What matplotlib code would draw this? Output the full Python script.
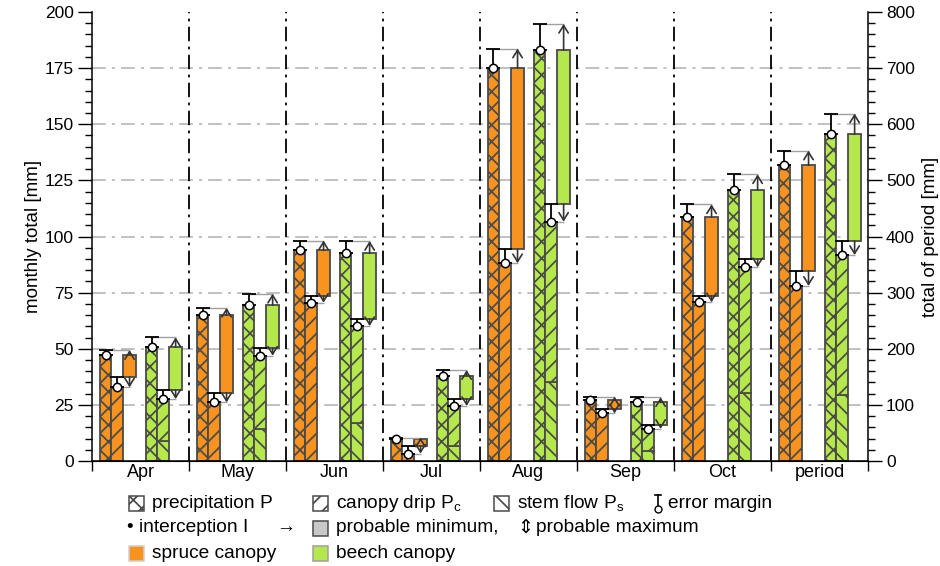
import numpy as np
import matplotlib.pyplot as plt
from matplotlib.patches import Rectangle
from matplotlib.lines import Line2D

plt.rcParams['font.family'] = ['Liberation Sans', 'DejaVu Sans']
plt.rcParams['mathtext.default'] = 'regular'
plt.rcParams['hatch.linewidth'] = 1.25

# months + whole period (period values in mm of the whole period, right axis)
months = ['Apr', 'May', 'Jun', 'Jul', 'Aug', 'Sep', 'Oct', 'period']
PERIOD_FACTOR = 4  # right axis 0-800 vs left axis 0-200

# spruce: precipitation P, canopy drip Pc, upper error margins
spruce_P = [47.3, 65.0, 93.8, 9.6, 174.9, 27.2, 108.8, 527]
spruce_P_err = [2.1, 3.2, 4.4, 0.8, 8.8, 1.4, 5.5, 26]
spruce_Pc = [32.8, 26.1, 70.5, 3.3, 88.1, 21.2, 70.7, 312]
spruce_Pc_err = [4.6, 4.3, 3.0, 3.4, 6.2, 1.8, 2.9, 27]

# beech: precipitation P, throughfall (canopy drip + stem flow), stem flow Ps
beech_P = [50.8, 69.5, 92.5, 37.9, 183.1, 26.1, 120.7, 582]
beech_P_err = [4.3, 5.0, 5.5, 2.6, 11.6, 2.3, 7.0, 37]
beech_T = [27.6, 46.9, 60.1, 24.5, 106.6, 14.3, 86.3, 367]
beech_T_err = [4.0, 3.3, 3.2, 3.0, 7.7, 1.9, 3.5, 25]
beech_Ps = [8.8, 14.1, 16.9, 6.7, 35.0, 4.5, 30.3, 117]

orange = '#F7931E'
green = '#B4E84C'
edge = '#4a4a4a'
dark = '#333333'
lgray = '#a0a0a0'

n = len(months)
scale = np.array([1.0] * (n - 1) + [1.0 / PERIOD_FACTOR])
x = np.arange(n)
bw = 0.122
boxw = 0.13

def sc(v):
    return np.array(v, dtype=float) * scale

sP, sPe, sPc, sPce = sc(spruce_P), sc(spruce_P_err), sc(spruce_Pc), sc(spruce_Pc_err)
bP, bPe, bT, bTe, bPs = sc(beech_P), sc(beech_P_err), sc(beech_T), sc(beech_T_err), sc(beech_Ps)

fig = plt.figure(figsize=(9.4, 5.66), dpi=100)
ax = fig.add_axes([0.0979, 0.1855, 0.8255, 0.7933])
ax2 = ax.twinx()

ax.set_xlim(0, n)
ax.set_ylim(0, 200)
ax2.set_ylim(0, 200 * PERIOD_FACTOR)

# grid and separators
for g in np.arange(25, 200, 25):
    ax.axhline(g, color='#b0b0b0', lw=1.1, ls=(0, (9, 4, 2, 4)), zorder=0)
for b in range(1, n):
    ax.axvline(b, color='black', lw=1.3, ls=(0, (8, 3, 1.5, 3)), zorder=0)

def draw_site(x_p, x_t, x_box, P, Pe, T, Te, color, Ps=None):
    ax.bar(x_p, P, width=bw, align='edge', color=color, edgecolor=edge,
           hatch='xx', lw=1.3, zorder=2)
    if Ps is None:
        ax.bar(x_t, T, width=bw, align='edge', color=color, edgecolor=edge,
               hatch='//', lw=1.3, zorder=2)
    else:
        ax.bar(x_t, Ps, width=bw, align='edge', color=color, edgecolor=edge,
               hatch='\\\\', lw=1.3, zorder=2)
        ax.bar(x_t, T - Ps, bottom=Ps, width=bw, align='edge', color=color,
               edgecolor=edge, hatch='//', lw=1.3, zorder=2)
    # interception box: probable minimum
    lo = T + Te
    ax.bar(x_box, P - lo, bottom=lo, width=boxw, align='edge', color=color,
           edgecolor=edge, lw=1.3, zorder=2)
    cp = x_p + bw / 2
    ct = x_t + bw / 2
    cb = x_box + boxw / 2
    ax.hlines(P + Pe, cp, cb, color=lgray, lw=1, zorder=3)
    ax.hlines(T, ct, cb, color=lgray, lw=1, zorder=3)
    for i in range(n):
        ax.annotate('', xy=(cb[i], P[i] + Pe[i]), xytext=(cb[i], P[i]),
                    arrowprops=dict(arrowstyle='->,head_length=0.45,head_width=0.28',
                                    color=dark, lw=1.2, shrinkA=0, shrinkB=0,
                                    mutation_scale=12), zorder=4)
        ax.annotate('', xy=(cb[i], T[i]), xytext=(cb[i], lo[i]),
                    arrowprops=dict(arrowstyle='->,head_length=0.45,head_width=0.28',
                                    color=dark, lw=1.2, shrinkA=0, shrinkB=0,
                                    mutation_scale=12), zorder=4)
    ax.errorbar(cp, P, yerr=[np.zeros(n), Pe], fmt='none', ecolor='black',
                elinewidth=1.3, capsize=5, capthick=1.3, zorder=5)
    ax.errorbar(ct, T, yerr=[np.zeros(n), Te], fmt='none', ecolor='black',
                elinewidth=1.3, capsize=5, capthick=1.3, zorder=5)
    ax.plot(cp, P, 'o', ms=6, mfc='white', mec='black', mew=1.1, ls='none', zorder=6)
    ax.plot(ct, T, 'o', ms=6, mfc='white', mec='black', mew=1.1, ls='none', zorder=6)

draw_site(x + 0.078, x + 0.200, x + 0.322, sP, sPe, sPc, sPce, orange)
draw_site(x + 0.553, x + 0.675, x + 0.797, bP, bPe, bT, bTe, green, Ps=bPs)

# axes styling
ax.spines['top'].set_visible(False)
ax.spines['right'].set_visible(False)
ax2.spines['top'].set_visible(False)
ax2.spines['left'].set_visible(False)
for s in ['left', 'bottom']:
    ax.spines[s].set_linewidth(1.1)
ax2.spines['right'].set_linewidth(1.1)

ax.set_yticks(np.arange(0, 201, 25))
ax.set_yticks(np.arange(0, 201, 5), minor=True)
ax2.set_yticks(np.arange(0, 801, 100))
ax2.set_yticks(np.arange(0, 801, 20), minor=True)
ax.tick_params(axis='y', which='major', length=10, width=1, labelsize=12.5, pad=3)
ax.tick_params(axis='y', which='minor', length=5, width=1)
ax2.tick_params(axis='y', which='major', length=10, width=1, labelsize=12.5, pad=3)
ax2.tick_params(axis='y', which='minor', length=5, width=1)

ax.set_xticks(np.arange(n + 1))
ax.set_xticklabels([])
ax.set_xticks(x + 0.5, minor=True)
ax.set_xticklabels(months, minor=True)
ax.tick_params(axis='x', which='major', length=7, width=1)
ax.tick_params(axis='x', which='minor', length=0, labelsize=13, pad=2)

ax.set_ylabel('monthly total [mm]', fontsize=13.5, labelpad=2)
ax2.set_ylabel('total of period [mm]', fontsize=13.5, labelpad=5)

# legend built from figure-level artists
W, H = 940, 566
def fx(px):
    return px / W
def fy(py):
    return 1 - py / H

def icon(x0, yc, face, hatch=None, ec=edge, size=15):
    r = Rectangle((fx(x0), fy(yc + size / 2)), size / W, size / H,
                  transform=fig.transFigure, facecolor=face, edgecolor=ec,
                  hatch=hatch, lw=1.1)
    fig.add_artist(r)

fs = 13.8
rows = [503, 528, 553]
icon(129, rows[0], 'white', 'xx')
fig.text(fx(152), fy(rows[0]), 'precipitation P', fontsize=fs, va='center')
icon(313, rows[0], 'white', '//')
fig.text(fx(336), fy(rows[0]), 'canopy drip P$_c$', fontsize=fs, va='center')
icon(494, rows[0], 'white', '\\\\')
fig.text(fx(517), fy(rows[0]), 'stem flow P$_s$', fontsize=fs, va='center')
# error margin icon
fig.add_artist(Line2D([fx(658), fx(658)], [fy(495), fy(508)], transform=fig.transFigure,
                      color='black', lw=1.2))
fig.add_artist(Line2D([fx(655), fx(661)], [fy(495), fy(495)], transform=fig.transFigure,
                      color='black', lw=1.2))
fig.add_artist(Line2D([fx(658)], [fy(509)], transform=fig.transFigure, marker='o',
                      ms=5, mfc='white', mec='black', mew=1))
fig.text(fx(668), fy(rows[0]), 'error margin', fontsize=fs, va='center')

fig.text(fx(127), fy(rows[1]), '\u2022 interception I', fontsize=fs, va='center')
fig.text(fx(276), fy(rows[1]), '\u2192', fontsize=fs, va='center')
icon(313, rows[1], '#c8c8c8')
fig.text(fx(336), fy(rows[1]), 'probable minimum,', fontsize=fs, va='center')
fig.text(fx(517), fy(rows[1]), '\u21d5', fontsize=fs, va='center')
fig.text(fx(536), fy(rows[1]), 'probable maximum', fontsize=fs, va='center')

icon(129, rows[2], orange, ec='#d0d0d0')
fig.text(fx(152), fy(rows[2]), 'spruce canopy', fontsize=fs, va='center')
icon(313, rows[2], green, ec='#a0a0a0')
fig.text(fx(336), fy(rows[2]), 'beech canopy', fontsize=fs, va='center')

fig.savefig('out.png', dpi=100)
